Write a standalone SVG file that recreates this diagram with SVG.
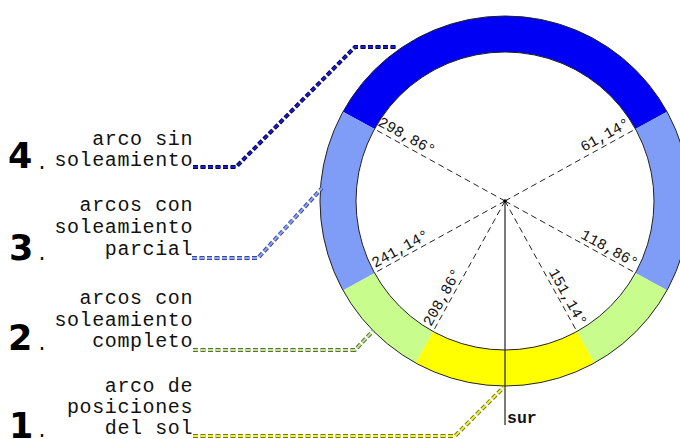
<svg xmlns="http://www.w3.org/2000/svg" width="680" height="439" viewBox="0 0 680 439">
<style>
.lbl{font-family:"Liberation Mono","Courier New",monospace;font-size:20px;letter-spacing:0.6px;fill:#111;text-anchor:end}
.dot{font-family:"Liberation Mono","Courier New",monospace;font-size:20px;fill:#111}
.num{font-family:"DejaVu Sans","Liberation Sans",sans-serif;font-weight:bold;font-size:35px;fill:#000}
.ang{font-family:"Liberation Mono","Courier New",monospace;font-size:15px;fill:#111}
.rad{stroke:#222;stroke-width:1;stroke-dasharray:6 4;fill:none}
.edge{fill:none;stroke:#222;stroke-width:1}
.co{fill:none;stroke-width:4;stroke-dasharray:5 2.5}
.ci{fill:none;stroke-width:2;stroke-dasharray:5 2.5}
</style>
<rect width="680" height="439" fill="#fff"/>
<g id="ring">
<path d="M342.98,111.69 A185,185 0 0 1 667.02,111.69 L635.49,129.07 A149,149 0 0 0 374.51,129.07 Z" fill="#0000f5"/>
<path d="M667.02,111.69 A185,185 0 0 1 667.02,290.31 L635.49,272.93 A149,149 0 0 0 635.49,129.07 Z" fill="#7f9cf7"/>
<path d="M667.02,290.31 A185,185 0 0 1 594.31,363.02 L576.93,331.49 A149,149 0 0 0 635.49,272.93 Z" fill="#c8fc8c"/>
<path d="M594.31,363.02 A185,185 0 0 1 415.69,363.02 L433.07,331.49 A149,149 0 0 0 576.93,331.49 Z" fill="#ffff00"/>
<path d="M415.69,363.02 A185,185 0 0 1 342.98,290.31 L374.51,272.93 A149,149 0 0 0 433.07,331.49 Z" fill="#c8fc8c"/>
<path d="M342.98,290.31 A185,185 0 0 1 342.98,111.69 L374.51,129.07 A149,149 0 0 0 374.51,272.93 Z" fill="#7f9cf7"/>
<circle class="edge" cx="505" cy="201" r="185"/>
<circle class="edge" cx="505" cy="201" r="149"/>
</g>
<g id="radials">
<line class="rad" x1="505" y1="201" x2="635.49" y2="129.07"/>
<line class="rad" x1="505" y1="201" x2="635.49" y2="272.93"/>
<line class="rad" x1="505" y1="201" x2="576.93" y2="331.49"/>
<line class="rad" x1="505" y1="201" x2="433.07" y2="331.49"/>
<line class="rad" x1="505" y1="201" x2="374.51" y2="272.93"/>
<line class="rad" x1="505" y1="201" x2="374.51" y2="129.07"/>
<line x1="505" y1="201" x2="505" y2="425" stroke="#222" stroke-width="1.2"/>
<circle cx="505" cy="201" r="1.8" fill="#000"/>
</g>
<g id="angles">
<text class="ang" x="377" y="125" transform="rotate(28.86 377 125)">298,86°</text>
<text class="ang" x="631" y="126" text-anchor="end" transform="rotate(-28.86 631 126)">61,14°</text>
<text class="ang" x="635" y="268" text-anchor="end" transform="rotate(28.86 635 268)">118,86°</text>
<text class="ang" x="375" y="268" transform="rotate(-28.86 375 268)">241,14°</text>
<text class="ang" x="431" y="327" transform="rotate(-61.14 431 327)">208,86°</text>
<text class="ang" x="579" y="327" text-anchor="end" transform="rotate(61.14 579 327)">151,14°</text>
<text x="507" y="423" font-family="Liberation Mono, monospace" font-weight="bold" font-size="16.5" fill="#111">sur</text>
</g>
<g id="connectors">
<polyline class="co" stroke="#000050" points="193,167 236,167 355,47 397,47"/>
<polyline class="ci" stroke="#1c1cc8" points="193,167 236,167 355,47 397,47"/>
<polyline class="co" stroke="#3a4a9a" points="192,258 258,258 322,188"/>
<polyline class="ci" stroke="#8ca2f2" points="192,258 258,258 322,188"/>
<polyline class="co" stroke="#5a7038" points="193,350 355,350 373,331"/>
<polyline class="ci" stroke="#bde890" points="193,350 355,350 373,331"/>
<polyline class="co" stroke="#7a7a00" points="193,436 455,436 504,387"/>
<polyline class="ci" stroke="#f0f040" points="193,436 455,436 504,387"/>
</g>
<g id="label4">
<text class="num" x="8" y="168">4</text>
<text class="dot" x="36" y="169">.</text>
<text class="lbl" x="193" y="144.5">arco sin</text>
<text class="lbl" x="193" y="166">soleamiento</text>
</g>
<g id="label3">
<text class="num" x="9" y="260">3</text>
<text class="dot" x="36" y="260">.</text>
<text class="lbl" x="193" y="211">arcos con</text>
<text class="lbl" x="193" y="233">soleamiento</text>
<text class="lbl" x="193" y="255">parcial</text>
</g>
<g id="label2">
<text class="num" x="8" y="350">2</text>
<text class="dot" x="36" y="350">.</text>
<text class="lbl" x="193" y="304">arcos con</text>
<text class="lbl" x="193" y="326">soleamiento</text>
<text class="lbl" x="193" y="347">completo</text>
</g>
<g id="label1">
<text class="num" x="9" y="438">1</text>
<text class="dot" x="36" y="437">.</text>
<text class="lbl" x="193" y="392">arco de</text>
<text class="lbl" x="193" y="413">posiciones</text>
<text class="lbl" x="193" y="434">del sol</text>
</g>
</svg>
